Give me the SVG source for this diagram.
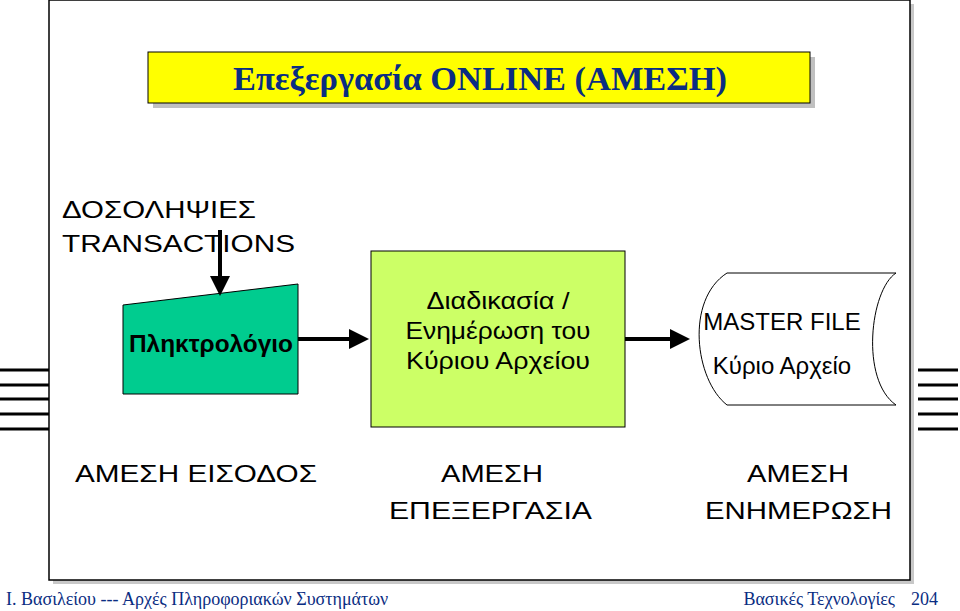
<svg xmlns="http://www.w3.org/2000/svg" width="960" height="611" viewBox="0 0 960 611">
<style>
.s{font-family:"Liberation Sans",Arial,sans-serif;font-size:24px;fill:#000}
.c{stroke:#000;stroke-width:4;fill:none}
.h{stroke:#000;stroke-width:3}
</style>
<defs><marker id="a" markerWidth="5" markerHeight="5" refX="4" refY="2.5" orient="auto"><path d="M0,0L5,2.5L0,5z" fill="#000"/></marker></defs>
<rect width="960" height="611" fill="#fff"/>
<rect x="53" y="4" width="861" height="580" fill="#c8c8c8"/>
<rect x="49" y="0" width="861" height="580" fill="#fff" stroke="#000" stroke-width="1.5"/>
<g id="lines">
<g class="h"><line x1="0" y1="370" x2="49" y2="370"/><line x1="0" y1="385" x2="49" y2="385"/><line x1="0" y1="399" x2="49" y2="399"/><line x1="0" y1="414" x2="49" y2="414"/><line x1="0" y1="429" x2="49" y2="429"/>
<line x1="918" y1="370" x2="958" y2="370"/><line x1="918" y1="385" x2="958" y2="385"/><line x1="918" y1="399" x2="958" y2="399"/><line x1="918" y1="414" x2="958" y2="414"/><line x1="918" y1="429" x2="958" y2="429"/></g>
</g>
<g id="title">
<rect x="153" y="57" width="662" height="51" fill="#c0c0c0"/>
<rect x="148" y="52" width="662" height="51" fill="#ffff00" stroke="#000" stroke-width="1"/>
<text x="233" y="90" textLength="494" lengthAdjust="spacingAndGlyphs" font-family="Liberation Serif,serif" font-size="33" font-weight="bold" fill="#0a2d82">Επεξεργασία ONLINE (ΑΜΕΣΗ)</text>
</g>
<g id="transactions"><text class="s" x="62" y="218" font-size="28" textLength="194" lengthAdjust="spacingAndGlyphs">ΔΟΣΟΛΗΨΙΕΣ</text><text class="s" x="62" y="252" font-size="28" textLength="233" lengthAdjust="spacingAndGlyphs">TRANSACTIONS</text></g>
<g id="keyboard"><polygon points="123,305 298,284 298,394 123,394" fill="#00cc8f" stroke="#000" stroke-width="1"/><text class="s" x="129" y="352" textLength="164" lengthAdjust="spacingAndGlyphs" font-weight="bold" font-size="23">Πληκτρολόγιο</text></g>
<g id="process"><rect x="371" y="251" width="254" height="176" fill="#ccff66" stroke="#000" stroke-width="1"/>
<text class="s" x="498" y="309" text-anchor="middle" font-size="24" textLength="143" lengthAdjust="spacingAndGlyphs">Διαδικασία /</text>
<text class="s" x="498" y="339" text-anchor="middle" font-size="24" textLength="185" lengthAdjust="spacingAndGlyphs">Ενημέρωση του</text>
<text class="s" x="498" y="369" text-anchor="middle" font-size="24" textLength="184" lengthAdjust="spacingAndGlyphs">Κύριου Αρχείου</text></g>
<g id="master"><path d="M727,273 L896,273 C870,290 860,380 896,405 L727,405 C695,380 685,300 727,273 Z" fill="#fff" stroke="#000" stroke-width="1"/>
<text class="s" x="782" y="330" text-anchor="middle" font-size="22">MASTER FILE</text>
<text class="s" x="782" y="374" text-anchor="middle" font-size="22">Κύριο Αρχείο</text></g>
<g id="connectors">
<line class="c" x1="220" y1="230" x2="220" y2="292" marker-end="url(#a)"/>
<line class="c" x1="298" y1="339" x2="365" y2="339" marker-end="url(#a)"/>
<line class="c" x1="625" y1="339" x2="686" y2="339" marker-end="url(#a)"/>
</g>
<g id="labels">
<text class="s" x="75" y="482" font-size="30" textLength="242" lengthAdjust="spacingAndGlyphs">ΑΜΕΣΗ ΕΙΣΟΔΟΣ</text>
<text class="s" x="441" y="482" font-size="30" textLength="102" lengthAdjust="spacingAndGlyphs">ΑΜΕΣΗ</text>
<text class="s" x="389" y="519" font-size="30" textLength="203" lengthAdjust="spacingAndGlyphs">ΕΠΕΞΕΡΓΑΣΙΑ</text>
<text class="s" x="747" y="482" font-size="30" textLength="102" lengthAdjust="spacingAndGlyphs">ΑΜΕΣΗ</text>
<text class="s" x="705" y="519" font-size="30" textLength="187" lengthAdjust="spacingAndGlyphs">ΕΝΗΜΕΡΩΣΗ</text>
</g>
<g id="footer" font-family="Liberation Serif,serif" font-size="18" fill="#0a2d82">
<text x="6" y="605">Ι. Βασιλείου --- Αρχές Πληροφοριακών Συστημάτων</text>
<text x="895" y="605" text-anchor="end">Βασικές Τεχνολογίες</text>
<text x="938" y="605" text-anchor="end">204</text>
</g>
</svg>
